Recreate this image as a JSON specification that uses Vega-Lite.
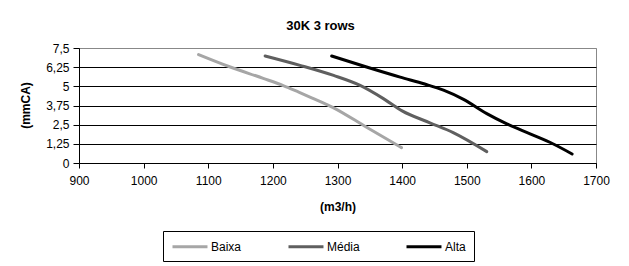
{
  "$schema": "https://vega.github.io/schema/vega-lite/v6.json",
  "autosize": {"type": "none"},
  "width": 517,
  "height": 115,
  "padding": {"left": 79, "top": 48, "right": 33, "bottom": 103},
  "background": "white",
  "title": {
    "text": "30K 3 rows",
    "font": "Liberation Sans",
    "fontSize": 13,
    "fontWeight": "bold",
    "color": "black",
    "anchor": "middle",
    "dx": -17,
    "baseline": "alphabetic",
    "offset": -1
  },
  "data": {
    "values": [
      {"serie": "Baixa", "vazao": 1085, "pressao": 7.07},
      {"serie": "Baixa", "vazao": 1134, "pressao": 6.26},
      {"serie": "Baixa", "vazao": 1185, "pressao": 5.52},
      {"serie": "Baixa", "vazao": 1216, "pressao": 5.05},
      {"serie": "Baixa", "vazao": 1240, "pressao": 4.62},
      {"serie": "Baixa", "vazao": 1260, "pressao": 4.25},
      {"serie": "Baixa", "vazao": 1294, "pressao": 3.6},
      {"serie": "Baixa", "vazao": 1345, "pressao": 2.33},
      {"serie": "Baixa", "vazao": 1399, "pressao": 1.0},
      {"serie": "Média", "vazao": 1188, "pressao": 6.98},
      {"serie": "Média", "vazao": 1242, "pressao": 6.37},
      {"serie": "Média", "vazao": 1294, "pressao": 5.71},
      {"serie": "Média", "vazao": 1335, "pressao": 5.06},
      {"serie": "Média", "vazao": 1371, "pressao": 4.2},
      {"serie": "Média", "vazao": 1400, "pressao": 3.4},
      {"serie": "Média", "vazao": 1443, "pressao": 2.62},
      {"serie": "Média", "vazao": 1479, "pressao": 1.98},
      {"serie": "Média", "vazao": 1531, "pressao": 0.74},
      {"serie": "Alta", "vazao": 1291, "pressao": 6.98},
      {"serie": "Alta", "vazao": 1345, "pressao": 6.26},
      {"serie": "Alta", "vazao": 1397, "pressao": 5.6},
      {"serie": "Alta", "vazao": 1435, "pressao": 5.15},
      {"serie": "Alta", "vazao": 1464, "pressao": 4.75},
      {"serie": "Alta", "vazao": 1495, "pressao": 4.15},
      {"serie": "Alta", "vazao": 1531, "pressao": 3.22},
      {"serie": "Alta", "vazao": 1562, "pressao": 2.55},
      {"serie": "Alta", "vazao": 1598, "pressao": 1.9},
      {"serie": "Alta", "vazao": 1634, "pressao": 1.24},
      {"serie": "Alta", "vazao": 1663, "pressao": 0.59}
    ]
  },
  "mark": {"type": "line", "strokeWidth": 3, "interpolate": "monotone", "strokeCap": "round"},
  "encoding": {
    "x": {
      "field": "vazao",
      "type": "quantitative",
      "scale": {"domain": [900, 1700], "nice": false, "zero": false},
      "axis": {
        "title": "(m3/h)",
        "values": [900, 1000, 1100, 1200, 1300, 1400, 1500, 1600, 1700],
        "format": "d",
        "grid": false,
        "tickSize": 5,
        "labelPadding": 7,
        "titlePadding": 15,
        "domainColor": "black",
        "tickColor": "black",
        "labelColor": "black",
        "titleColor": "black",
        "labelFont": "Liberation Sans",
        "titleFont": "Liberation Sans",
        "labelFontSize": 12,
        "titleFontSize": 12,
        "titleFontWeight": "bold",
        "labelFlush": false
      }
    },
    "y": {
      "field": "pressao",
      "type": "quantitative",
      "scale": {"domain": [0, 7.5], "nice": false},
      "axis": {
        "title": "(mmCA)",
        "values": [0, 1.25, 2.5, 3.75, 5, 6.25, 7.5],
        "labelExpr": "replace(toString(datum.value), '.', ',')",
        "grid": true,
        "gridColor": {"condition": {"test": "datum.value === 7.5", "value": "#888888"}, "value": "black"},
        "gridOpacity": 1,
        "tickSize": 6,
        "labelPadding": 4,
        "domainColor": "black",
        "tickColor": "black",
        "labelColor": "black",
        "titleColor": "black",
        "labelFont": "Liberation Sans",
        "titleFont": "Liberation Sans",
        "labelFontSize": 12,
        "titleFontSize": 12,
        "titleFontWeight": "bold",
        "titleAngle": -90,
        "titleX": -54,
        "titleY": 57,
        "titleAlign": "center",
        "titleBaseline": "middle",
        "labelFlush": false
      }
    },
    "color": {
      "field": "serie",
      "type": "nominal",
      "sort": ["Baixa", "Média", "Alta"],
      "scale": {"domain": ["Baixa", "Média", "Alta"], "range": ["#a6a6a6", "#5f5f5f", "#000000"]},
      "legend": {
        "title": null,
        "orient": "none",
        "direction": "horizontal",
        "legendX": 84,
        "legendY": 183,
        "symbolType": "M-1,0H4.83",
        "symbolSize": 144,
        "symbolStrokeWidth": 3,
        "labelOffset": 25,
        "labelFont": "Liberation Sans",
        "labelFontSize": 12,
        "labelColor": "black",
        "columnPadding": 40,
        "padding": 8,
        "strokeColor": "black",
        "fillColor": "white"
      }
    }
  },
  "config": {
    "view": {"stroke": "#888888", "strokeWidth": 1}
  }
}
